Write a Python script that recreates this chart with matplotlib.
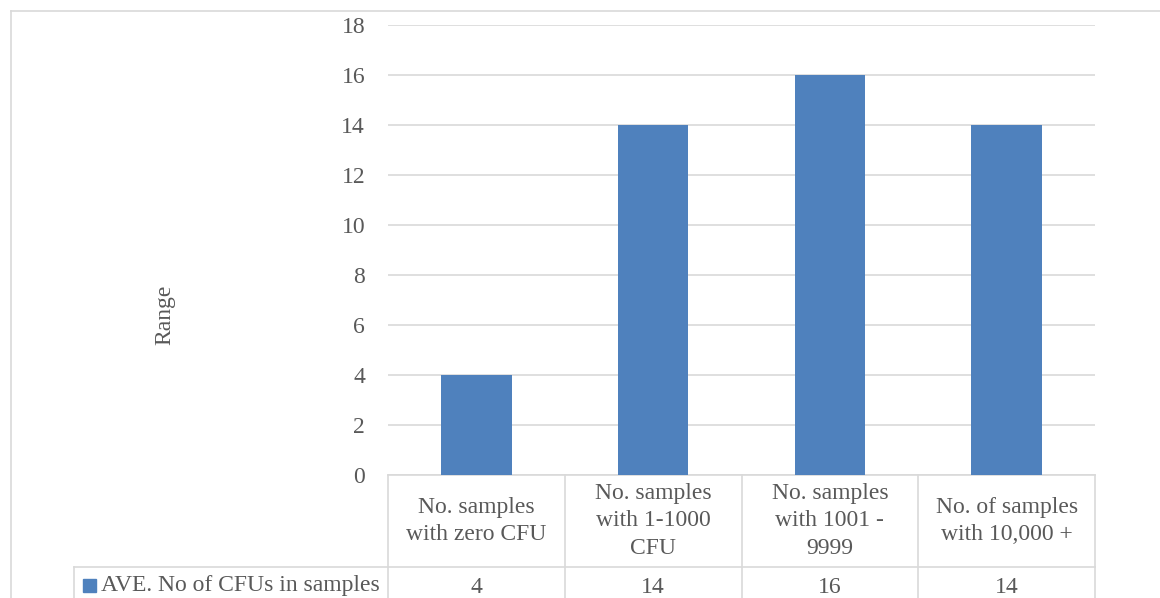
import matplotlib.pyplot as plt
from matplotlib.lines import Line2D
from matplotlib.patches import Rectangle
from matplotlib import transforms

categories = ["No. samples\nwith zero CFU", "No. samples\nwith 1-1000\nCFU",
              "No. samples\nwith 1001 -\n9999", "No. of samples\nwith 10,000 +"]
values = [4, 14, 16, 14]
series_name = "AVE. No of CFUs in samples"
yticks = [0, 2, 4, 6, 8, 10, 12, 14, 16, 18]

bar_color = "#4F81BD"
grid_color = "#D9D9D9"
text_color = "#595959"
fs = 17

plt.rcParams['font.family'] = ['Liberation Serif', 'DejaVu Serif']

W, H = 1160, 598
fig = plt.figure(figsize=(W / 100, H / 100), dpi=100)

# plot area in pixels
x0, x1, ytop, ybot = 388, 1095, 25, 475
ax = fig.add_axes([x0 / W, 1 - ybot / H, (x1 - x0) / W, (ybot - ytop) / H])

xs = range(len(values))
ax.bar(xs, values, width=0.4, color=bar_color, zorder=3)
ax.set_xlim(-0.5, len(values) - 0.5)
ax.set_ylim(0, 18)
ax.set_yticks(yticks)
ax.set_yticklabels([str(t) for t in yticks], fontsize=fs, color=text_color)
ax.tick_params(axis='y', length=0, pad=16.5)
ax.set_xticks([])
for s in ax.spines.values():
    s.set_visible(False)
ax.grid(axis='y', color=grid_color, linewidth=1.2, zorder=0)

# data table below the axes
axh = ybot - ytop
hdr_bot = -(567 - ybot) / axh
row_bot = -(600 - ybot) / axh
trans = transforms.blended_transform_factory(ax.transData, ax.transAxes)
n = len(values)
lkw = dict(color=grid_color, linewidth=1.2, clip_on=False, transform=trans)
ax.add_line(Line2D([-0.5, n - 0.5], [0, 0], **lkw))
ax.add_line(Line2D([-0.5, n - 0.5], [hdr_bot, hdr_bot], **lkw))
for i in range(n + 1):
    ax.add_line(Line2D([i - 0.5, i - 0.5], [0, row_bot], **lkw))
for i, (c, v) in enumerate(zip(categories, values)):
    ax.text(i, hdr_bot / 2, c, transform=trans, ha='center', va='center',
            fontsize=fs, color=text_color, linespacing=1.42)
    ax.text(i, (hdr_bot + row_bot) / 2 - 0.008, str(v), transform=trans,
            ha='center', va='center', fontsize=fs, color=text_color)

# legend cell of the table
fkw = dict(color=grid_color, linewidth=1.2, transform=fig.transFigure)
fig.add_artist(Line2D([74 / W, x0 / W], [1 - 567 / H, 1 - 567 / H], **fkw))
fig.add_artist(Line2D([74 / W, 74 / W], [1 - 567 / H, 0], **fkw))
fig.add_artist(Rectangle((83 / W, 1 - 592 / H), 13 / W, 13 / H,
                         color=bar_color, transform=fig.transFigure))
fig.text(101 / W, 1 - 586 / H, series_name, ha='left', va='center',
         fontsize=fs, color=text_color)

# outer chart border
fig.add_artist(Line2D([11 / W, 1], [1 - 11 / H, 1 - 11 / H], **fkw))
fig.add_artist(Line2D([11 / W, 11 / W], [1 - 11 / H, 0], **fkw))

fig.text(165 / W, 1 - 315 / H, "Range", rotation=90, ha='center', va='center',
         fontsize=fs, color=text_color)

fig.savefig("out.png", dpi=100)
